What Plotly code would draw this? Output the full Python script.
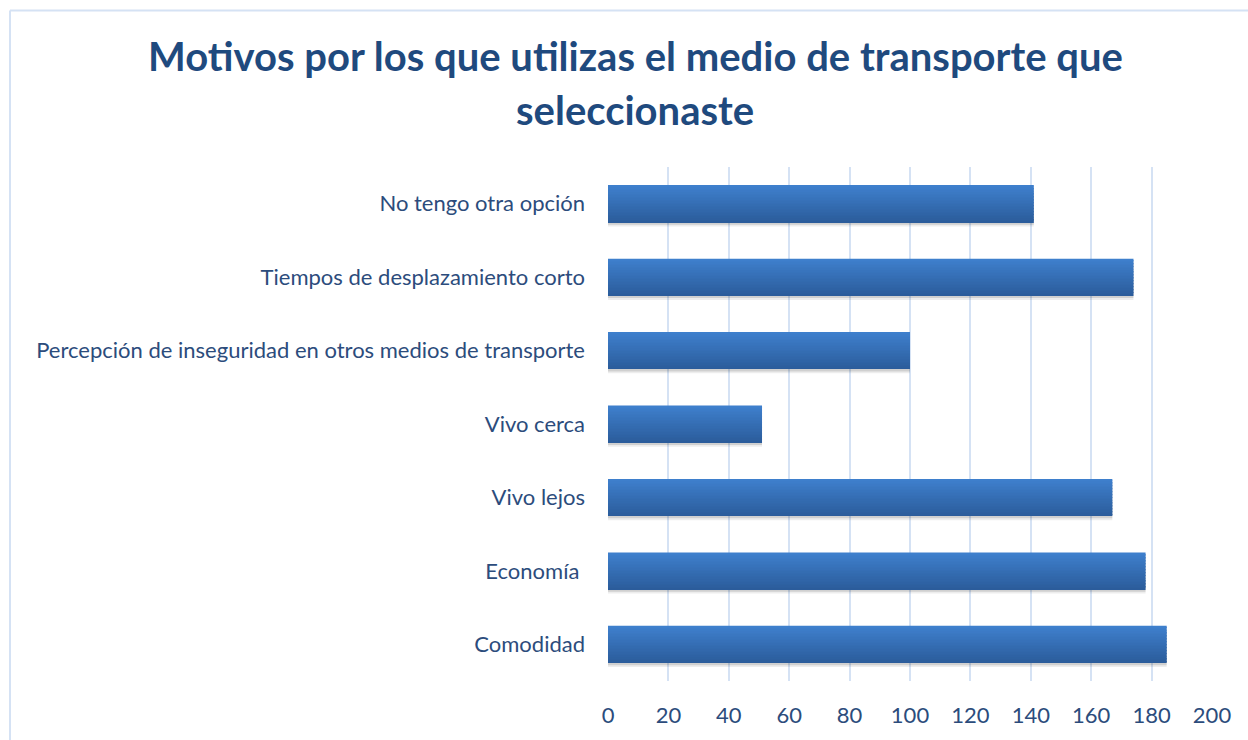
import plotly.graph_objects as go

# Survey answers: reasons for choosing the transport mode (bottom to top)
categories = [
    "Comodidad",
    "Economía ",
    "Vivo lejos",
    "Vivo cerca",
    "Percepción de inseguridad en otros medios de transporte",
    "Tiempos de desplazamiento corto",
    "No tengo otra opción",
]
counts = [185, 178, 167, 51, 100, 174, 141]
x_ticks = [0, 20, 40, 60, 80, 100, 120, 140, 160, 180, 200]

title_lines = [
    "Motivos por los que utilizas el medio de transporte que",
    "seleccionaste",
]

W, H = 1248, 740
M_L, M_R, M_T, M_B = 608, 36, 167, 57
BAR_W = 0.5
TITLE_COLOR = "#1F4A7E"
LABEL_COLOR = "#2C4C7C"
GRID_COLOR = "#D5E2F4"
FONT = "Lato"

fig = go.Figure()

# soft drop shadow under each bar
for k, (alpha, shift) in enumerate([(0.12, 0.035), (0.07, 0.06)]):
    fig.add_trace(go.Bar(
        x=counts, y=categories, orientation="h",
        width=BAR_W, offset=-BAR_W / 2 - shift,
        marker=dict(color=f"rgba(0,0,0,{alpha})", line=dict(width=0)),
        hoverinfo="skip", showlegend=False,
    ))

# vertical gradient: light blue on top, deeper blue at the bottom
top_rgb = (62, 127, 204)
bot_rgb = (43, 92, 155)
n_strips = 24
for i in range(n_strips):
    t = i / (n_strips - 1)
    r = round(bot_rgb[0] + (top_rgb[0] - bot_rgb[0]) * t)
    g = round(bot_rgb[1] + (top_rgb[1] - bot_rgb[1]) * t)
    b = round(bot_rgb[2] + (top_rgb[2] - bot_rgb[2]) * t)
    fig.add_trace(go.Bar(
        x=counts, y=categories, orientation="h",
        width=BAR_W / n_strips * 1.05,
        offset=-BAR_W / 2 + i * BAR_W / n_strips,
        marker=dict(color=f"rgb({r},{g},{b})", line=dict(width=0)),
        hoverinfo="skip" if i else "x+y", showlegend=False,
    ))

fig.update_layout(
    width=W, height=H,
    margin=dict(l=M_L, r=M_R, t=M_T, b=M_B, pad=0),
    paper_bgcolor="white", plot_bgcolor="white",
    barmode="overlay", bargap=0.5,
    showlegend=False,
    font=dict(family=FONT, color=LABEL_COLOR, size=22),
    xaxis=dict(
        range=[0, 200], tickvals=x_ticks, ticktext=[str(v) for v in x_ticks],
        showgrid=True, gridcolor=GRID_COLOR, gridwidth=2,
        zeroline=False, showline=False, ticks="",
        tickfont=dict(family=FONT, size=22, color=LABEL_COLOR),
        ticklabelstandoff=19,
    ),
    yaxis=dict(
        categoryorder="array", categoryarray=categories,
        range=[-0.5, len(categories) - 0.5],
        showgrid=False, zeroline=False, showline=False, ticks="",
        tickfont=dict(family=FONT, size=22, color=LABEL_COLOR),
        ticklabelstandoff=22,
    ),
)

# chart frame: thin light-blue border along the top and left edges
plot_w = W - M_L - M_R
plot_h = H - M_T - M_B
def px_x(p):
    return (p - M_L) / plot_w
def px_y(p):
    return (H - M_B - p) / plot_h

fig.add_shape(type="line", xref="paper", yref="paper",
              x0=px_x(10), x1=px_x(W + 5), y0=px_y(10), y1=px_y(10),
              line=dict(color=GRID_COLOR, width=2), layer="below")
fig.add_shape(type="line", xref="paper", yref="paper",
              x0=px_x(10), x1=px_x(10), y0=px_y(10), y1=px_y(H + 5),
              line=dict(color=GRID_COLOR, width=2), layer="below")

# two-line bold title
for line, ypx in zip(title_lines, [56, 110]):
    fig.add_annotation(
        text=f"<b>{line}</b>", xref="paper", yref="paper",
        x=px_x(635), y=px_y(ypx), xanchor="center", yanchor="middle",
        showarrow=False,
        font=dict(family=FONT, size=40, color=TITLE_COLOR),
    )

fig.write_html("out.html")
